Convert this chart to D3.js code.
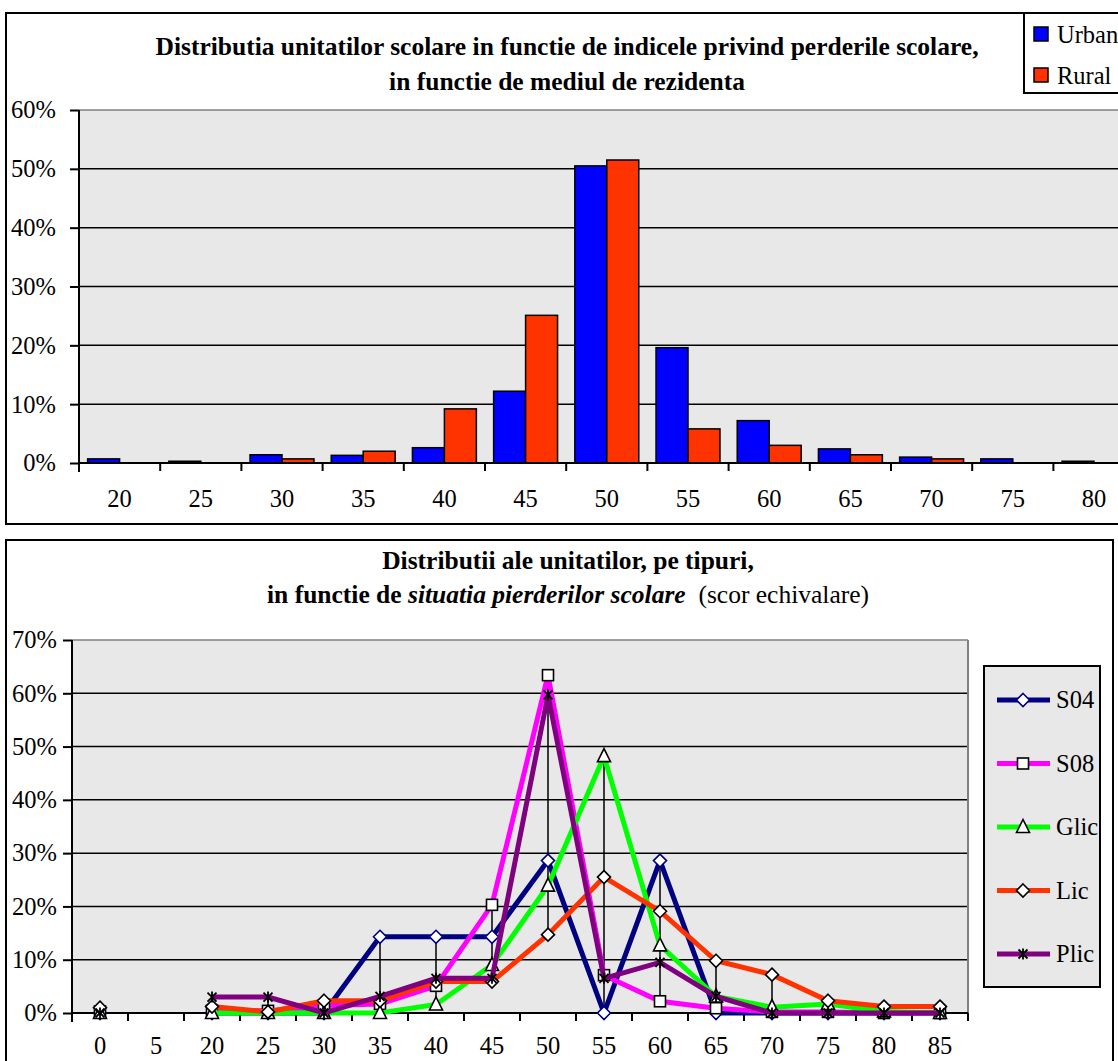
<!DOCTYPE html>
<html><head><meta charset="utf-8">
<script src="https://cdn.jsdelivr.net/npm/d3@7"></script>
<style>body{margin:0;background:#fff}svg{display:block}</style>
</head><body>
<script>
// ---------- data: top chart ----------
const barCategories = ["20","25","30","35","40","45","50","55","60","65","70","75","80"];
const barSeriesNames = ["Urban","Rural"];
const urbanValues = [0.007,0.003,0.014,0.013,0.026,0.122,0.505,0.196,0.072,0.024,0.010,0.007,0.003];
const ruralValues = [0,0,0.007,0.020,0.092,0.251,0.515,0.058,0.030,0.014,0.007,0,0];
const barColors = ["#0000FF","#FF3300"];
const barYTicks = [0,0.1,0.2,0.3,0.4,0.5,0.6];

// ---------- data: bottom chart ----------
const lineCategories = ["0","5","20","25","30","35","40","45","50","55","60","65","70","75","80","85"];
const lineSeriesNames = ["S04","S08","Glic","Lic","Plic"];
const s04Values  = [0,null,0,0,0,0.143,0.143,0.143,0.286,0,0.286,0,0,0,0,0];
const s08Values  = [0.003,null,0.004,0.004,0.014,0.017,0.051,0.203,0.634,0.071,0.022,0.009,0.002,0.002,0,0];
const glicValues = [0,null,0,0,0,0,0.016,0.090,0.239,0.482,0.127,0.031,0.011,0.017,0.003,0];
const licValues  = [0.010,null,0.012,0.002,0.023,0.023,0.059,0.059,0.147,0.255,0.191,0.098,0.072,0.023,0.012,0.012];
const plicValues = [0,null,0.030,0.030,0,0.031,0.065,0.065,0.597,0.065,0.095,0.031,0,0,0,0];
const lineColors = ["#000080","#FF00FF","#00FF00","#FF3300","#800080"];
const lineMarkers = ["diamondNavy","square","triangle","diamond","asterisk"];
const lineYTicks = [0,0.1,0.2,0.3,0.4,0.5,0.6,0.7];

const W = 1118, H = 1061;
const FONT = "'Liberation Serif', 'Times New Roman', Times, serif";
const svg = d3.select("body").append("svg").attr("width", W).attr("height", H)
  .attr("font-family", FONT);
const FS = 24.5;
const TFS = 25.5;
const PLOTBG = "#E8E8E8";

function styleAxis(a){
  a.attr("font-family", FONT).attr("font-size", FS);
  a.selectAll("path.domain").attr("stroke","#000").attr("stroke-width",2);
  a.selectAll(".tick line").attr("stroke","#000").attr("stroke-width",2);
  a.selectAll("text").attr("fill","#000");
}

// ================= TOP CHART =================
{
  const g = svg.append("g");
  g.append("rect").attr("x",6).attr("y",13).attr("width",1150).attr("height",511)
    .attr("fill","#fff").attr("stroke","#000").attr("stroke-width",2);
  const x0 = 79, step = 81.2;
  const x = d3.scaleBand().domain(barCategories).range([x0, x0 + step*barCategories.length]).padding(0);
  const xs = d3.scaleBand().domain(barSeriesNames).range([0, x.bandwidth()]).paddingInner(0).paddingOuter(0.27);
  const y = d3.scaleLinear().domain([0,0.6]).range([463,110]);

  g.append("rect").attr("x",x0).attr("y",y(0.6)).attr("width",x.range()[1]-x0).attr("height",y(0)-y(0.6)).attr("fill",PLOTBG);
  g.append("g").selectAll("line").data(barYTicks.filter(t=>t>0)).join("line")
    .attr("x1",x0).attr("x2",x.range()[1]).attr("y1",d=>y(d)).attr("y2",d=>y(d))
    .attr("stroke",d=>d===0.6?"#808080":"#000").attr("stroke-width",1.5);
  const series = [urbanValues, ruralValues];
  series.forEach((vals,si)=>{
    g.append("g").selectAll("rect").data(barCategories).join("rect")
      .attr("x",(c)=>x(c)+xs(barSeriesNames[si]))
      .attr("y",(c,i)=>y(vals[i]))
      .attr("width",xs.bandwidth())
      .attr("height",(c,i)=>y(0)-y(vals[i]))
      .attr("fill",barColors[si]).attr("stroke","#000").attr("stroke-width",1.5)
      .attr("display",(c,i)=>vals[i]>0?null:"none");
  });
  const yAxis = d3.axisLeft(y).tickValues(barYTicks).tickFormat(d3.format(".0%")).tickSize(9).tickPadding(14);
  const ya = g.append("g").attr("transform",`translate(${x0},0)`).call(yAxis);
  const xAxis = d3.axisBottom(x).tickSize(0).tickPadding(27);
  const xa = g.append("g").attr("transform",`translate(0,${y(0)})`).call(xAxis);
  g.append("g").selectAll("line").data(d3.range(barCategories.length+1)).join("line")
    .attr("x1",i=>x0+i*step).attr("x2",i=>x0+i*step).attr("y1",y(0)).attr("y2",y(0)+8)
    .attr("stroke","#000").attr("stroke-width",2);
  styleAxis(ya); styleAxis(xa);
  ya.select("path.domain").attr("d",`M0,${y(0.6)}V${y(0)+9}`);
  xa.select("path.domain").attr("d",`M${x0},0H${x.range()[1]}`);

  const t = g.append("text").attr("text-anchor","middle").attr("font-weight","bold").attr("font-size",TFS);
  t.append("tspan").attr("x",567).attr("y",55).text("Distributia unitatilor scolare in functie de indicele privind perderile scolare,");
  t.append("tspan").attr("x",567).attr("y",90).text("in functie de mediul de rezidenta");

  const lg = g.append("g");
  lg.append("rect").attr("x",1024).attr("y",13).attr("width",130).attr("height",80).attr("fill","#fff").attr("stroke","#000").attr("stroke-width",2);
  barSeriesNames.forEach((n,i)=>{
    lg.append("rect").attr("x",1034).attr("y",27+i*41).attr("width",14).attr("height",14)
      .attr("fill",barColors[i]).attr("stroke","#000").attr("stroke-width",1.5);
    lg.append("text").attr("x",1057).attr("y",43+i*41).attr("font-size",FS).text(n);
  });
}

// ================= BOTTOM CHART =================
{
  const g = svg.append("g");
  g.append("rect").attr("x",6).attr("y",540).attr("width",1107).attr("height",540)
    .attr("fill","#fff").attr("stroke","#000").attr("stroke-width",2);
  const x0 = 72, x1 = 968;
  const x = d3.scaleBand().domain(lineCategories).range([x0,x1]).padding(0);
  const cx = c => x(c) + x.bandwidth()/2;
  const y = d3.scaleLinear().domain([0,0.7]).range([1013,640]);

  g.append("rect").attr("x",x0).attr("y",y(0.7)).attr("width",x1-x0).attr("height",y(0)-y(0.7)).attr("fill",PLOTBG);
  g.append("g").selectAll("line").data(lineYTicks.filter(t=>t>0)).join("line")
    .attr("x1",x0).attr("x2",x1).attr("y1",d=>y(d)).attr("y2",d=>y(d))
    .attr("stroke",d=>d===0.7?"#808080":"#000").attr("stroke-width",1.5);
  g.append("line").attr("x1",x1).attr("x2",x1).attr("y1",y(0.7)).attr("y2",y(0)).attr("stroke","#808080").attr("stroke-width",2);

  const allSeries = [s04Values,s08Values,glicValues,licValues,plicValues];
  const hl = lineCategories.map((c,i)=>{
    const v = allSeries.map(s=>s[i]).filter(v=>v!=null);
    return v.length ? {c, lo:d3.min(v), hi:d3.max(v)} : null;
  }).filter(d=>d);
  g.append("g").selectAll("line").data(hl).join("line")
    .attr("x1",d=>cx(d.c)).attr("x2",d=>cx(d.c)).attr("y1",d=>y(d.lo)).attr("y2",d=>y(d.hi))
    .attr("stroke","#000").attr("stroke-width",1.5);

  const yAxis = d3.axisLeft(y).tickValues(lineYTicks).tickFormat(d3.format(".0%")).tickSize(9).tickPadding(6);
  const ya = g.append("g").attr("transform",`translate(${x0},0)`).call(yAxis);
  const xAxis = d3.axisBottom(x).tickSize(0).tickPadding(24);
  const xa = g.append("g").attr("transform",`translate(0,${y(0)})`).call(xAxis);
  g.append("g").selectAll("line").data(d3.range(lineCategories.length+1)).join("line")
    .attr("x1",i=>x0+i*x.step()).attr("x2",i=>x0+i*x.step()).attr("y1",y(0)).attr("y2",y(0)+8)
    .attr("stroke","#000").attr("stroke-width",2);
  styleAxis(ya); styleAxis(xa);
  ya.select("path.domain").attr("d",`M0,${y(0.7)}V${y(0)+9}`);
  xa.select("path.domain").attr("d",`M${x0},0H${x1}`);

  function drawMarker(sel, type){
    if(type==="diamondNavy"||type==="diamond"){
      sel.append("path").attr("d","M0,-6.5L6.5,0L0,6.5L-6.5,0Z").attr("fill","#fff")
        .attr("stroke",type==="diamondNavy"?"#000080":"#000").attr("stroke-width",1.6);
    } else if(type==="square"){
      sel.append("rect").attr("x",-5.5).attr("y",-5.5).attr("width",11).attr("height",11).attr("fill","#fff").attr("stroke","#000").attr("stroke-width",1.6);
    } else if(type==="triangle"){
      sel.append("path").attr("d","M0,-7.5L6.5,5.5L-6.5,5.5Z").attr("fill","#fff").attr("stroke","#000").attr("stroke-width",1.6);
    } else {
      sel.append("path").attr("d","M-4.5,-4.5L4.5,4.5M-4.5,4.5L4.5,-4.5M0,-5.5V5.5").attr("fill","none").attr("stroke","#000").attr("stroke-width",1.8);
    }
  }

  const line = d3.line().defined(d=>d.v!=null).x(d=>cx(d.c)).y(d=>y(d.v));
  allSeries.forEach((vals,si)=>{
    const pts = lineCategories.map((c,i)=>({c, v:vals[i]}));
    const sg = g.append("g");
    sg.append("path").attr("d",line(pts)).attr("fill","none").attr("stroke",lineColors[si])
      .attr("stroke-width",5).attr("stroke-linejoin","miter");
    sg.selectAll("g").data(pts.filter(d=>d.v!=null)).join("g")
      .attr("transform",d=>`translate(${cx(d.c)},${y(d.v)})`)
      .each(function(){ drawMarker(d3.select(this), lineMarkers[si]); });
  });

  g.append("text").attr("text-anchor","middle").attr("font-size",TFS).attr("font-weight","bold")
    .attr("x",568).attr("y",569).text("Distributii ale unitatilor, pe tipuri,");
  const t2 = g.append("text").attr("text-anchor","middle").attr("font-size",TFS).attr("x",568).attr("y",603);
  t2.append("tspan").attr("font-weight","bold").text("in functie de ");
  t2.append("tspan").attr("font-weight","bold").attr("font-style","italic").text("situatia pierderilor scolare");
  t2.append("tspan").text("\u00A0\u00A0(scor echivalare)");

  const lg = g.append("g");
  lg.append("rect").attr("x",984).attr("y",666).attr("width",116).attr("height",321).attr("fill",PLOTBG).attr("stroke","#000").attr("stroke-width",2);
  lineSeriesNames.forEach((n,i)=>{
    const yy = 700 + i*63.5;
    lg.append("line").attr("x1",997).attr("x2",1050).attr("y1",yy).attr("y2",yy).attr("stroke",lineColors[i]).attr("stroke-width",5);
    const m = lg.append("g").attr("transform",`translate(1023,${yy})`);
    drawMarker(m, lineMarkers[i]);
    lg.append("text").attr("x",1056).attr("y",yy+8).attr("font-size",FS).text(n);
  });
}
</script>
</body></html>
